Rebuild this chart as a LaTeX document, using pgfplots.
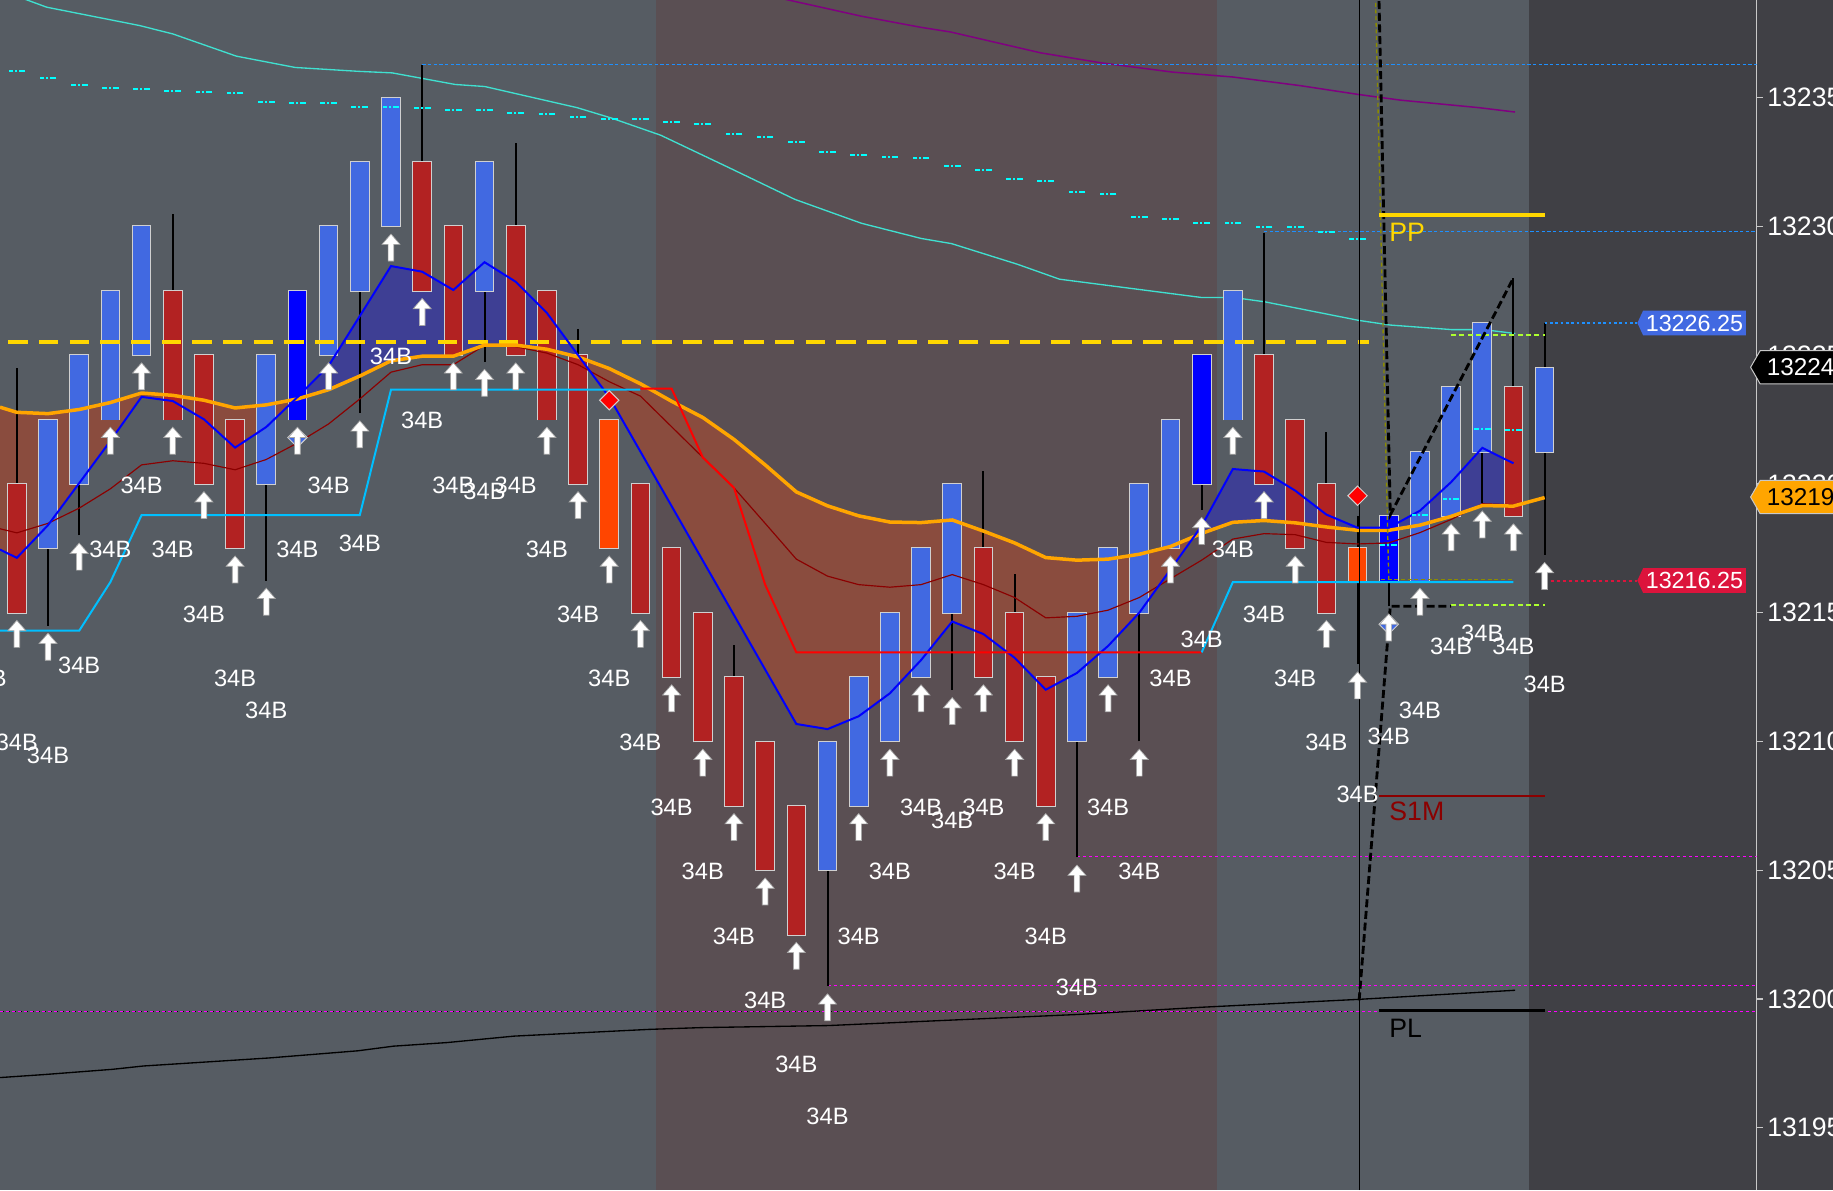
\documentclass[border=0pt]{standalone}
\usepackage{pgfplots}
\pgfplotsset{compat=1.18}
\usepackage{pgfplotstable}
\usepgfplotslibrary{fillbetween}
\usetikzlibrary{shapes.symbols}
\usepackage{fontspec}
\setmainfont{Liberation Sans}

\definecolor{bgleft}{HTML}{565C63}
\definecolor{bgmid}{HTML}{5A4F53}
\definecolor{bgdark}{HTML}{404045}
\definecolor{axisgray}{HTML}{C8C8C8}
\definecolor{royal}{HTML}{4169E1}
\definecolor{fire}{HTML}{B22222}
\definecolor{pureblue}{HTML}{0000FF}
\definecolor{orred}{HTML}{FF4500}
\definecolor{cborder}{HTML}{D0D0D0}
\definecolor{emaor}{HTML}{FFA500}
\definecolor{dkred}{HTML}{8B0000}
\definecolor{trailcyan}{HTML}{00BFFF}
\definecolor{turq}{HTML}{40E0D0}
\definecolor{purp}{HTML}{800080}
\definecolor{aqua}{HTML}{00FFFF}
\definecolor{gold}{HTML}{FFD700}
\definecolor{magen}{HTML}{FF00FF}
\definecolor{dodger}{HTML}{1E90FF}
\definecolor{brownfill}{HTML}{8A4C3E}
\definecolor{bluefill}{HTML}{3E3F94}
\definecolor{crimson}{HTML}{DC143C}
\definecolor{greenyel}{HTML}{ADFF2F}
\definecolor{olivec}{HTML}{8B8B00}
\pagecolor{bgdark}

\pgfdeclareplotmark{uarr}{%
  \pgfpathmoveto{\pgfqpoint{0pt}{-2.3pt}}%
  \pgfpathlineto{\pgfqpoint{2.7pt}{-5.4pt}}%
  \pgfpathlineto{\pgfqpoint{0.85pt}{-5.4pt}}%
  \pgfpathlineto{\pgfqpoint{0.85pt}{-10.4pt}}%
  \pgfpathlineto{\pgfqpoint{-0.85pt}{-10.4pt}}%
  \pgfpathlineto{\pgfqpoint{-0.85pt}{-5.4pt}}%
  \pgfpathlineto{\pgfqpoint{-2.7pt}{-5.4pt}}%
  \pgfpathclose
  \pgfusepathqfillstroke}
\pgfdeclareplotmark{dia}{%
  \pgfpathmoveto{\pgfqpoint{0pt}{2.9pt}}%
  \pgfpathlineto{\pgfqpoint{2.9pt}{0pt}}%
  \pgfpathlineto{\pgfqpoint{0pt}{-2.9pt}}%
  \pgfpathlineto{\pgfqpoint{-2.9pt}{0pt}}%
  \pgfpathclose
  \pgfusepathqfillstroke}

% candles of one colour: wick, border, body
\newcommand\candles[2]{%
\addplot[draw=none, mark=none, error bars/.cd, y dir=plus, y explicit, error mark=none,
  error bar style={draw=black, solid, line width=0.6pt}]
  table[x=i, y=low, y error plus expr=\thisrow{high}-\thisrow{low}] {#1};
\addplot[draw=none, mark=none, error bars/.cd, y dir=plus, y explicit, error mark=none,
  error bar style={draw=cborder, solid, line width=5.9pt}]
  table[x=i, y expr=\thisrow{bot}-0.035, y error plus expr=\thisrow{top}-\thisrow{bot}+0.07] {#1};
\addplot[draw=none, mark=none, error bars/.cd, y dir=plus, y explicit, error mark=none,
  error bar style={draw=#2, solid, line width=5.3pt}]
  table[x=i, y=bot, y error plus expr=\thisrow{top}-\thisrow{bot}] {#1};
}

\pgfplotstableread{
i low bot top high
1 13214.5 13217.5 13222.5 13222.5
2 13218 13220 13225 13225
3 13222.5 13222.5 13227.5 13227.5
4 13225 13225 13230 13230
8 13216.25 13220 13225 13225
10 13225 13225 13230 13230
11 13222.75 13227.5 13232.5 13232.5
12 13230 13230 13235 13235
15 13224.75 13227.5 13232.5 13232.5
26 13200.5 13205 13210 13210
27 13207.5 13207.5 13212.5 13212.5
28 13210 13210 13215 13215
29 13212.5 13212.5 13217.5 13217.5
30 13212 13215 13220 13220
34 13205.5 13210 13215 13215
35 13212.5 13212.5 13217.5 13217.5
36 13210 13215 13220 13220
37 13217.5 13217.5 13222.5 13222.5
39 13222.5 13222.5 13227.5 13227.5
45 13216.25 13216.25 13221.25 13221.25
46 13218.75 13218.75 13223.75 13223.75
47 13219.25 13221.25 13226.25 13226.25
49 13217.25 13221.25 13224.5 13226.25
}\tblue

\pgfplotstableread{
i low bot top high
0 13215 13215 13220 13224.5
5 13222.5 13222.5 13227.5 13230.5
6 13220 13220 13225 13225
7 13217.5 13217.5 13222.5 13222.5
13 13227.5 13227.5 13232.5 13236.25
14 13225 13225 13230 13230
16 13225 13225 13230 13233.25
17 13222.5 13222.5 13227.5 13227.5
18 13220 13220 13225 13226
20 13215 13215 13220 13220
21 13212.5 13212.5 13217.5 13217.5
22 13210 13210 13215 13215
23 13207.5 13207.5 13212.5 13213.75
24 13205 13205 13210 13210
25 13202.5 13202.5 13207.5 13207.5
31 13212.5 13212.5 13217.5 13220.5
32 13210 13210 13215 13216.5
33 13207.5 13207.5 13212.5 13212.5
40 13220 13220 13225 13229.75
41 13217.5 13217.5 13222.5 13222.5
42 13215 13215 13220 13222
48 13218.75 13218.75 13223.75 13228
}\tred

\pgfplotstableread{
i low bot top high
9 13222.5 13222.5 13227.5 13227.5
38 13219 13220 13225 13225
44 13215.25 13216.25 13218.75 13218.75
}\tpure

\pgfplotstableread{
i low bot top high
19 13217.5 13217.5 13222.5 13222.5
43 13213 13216.25 13217.5 13218.75
}\torange

\pgfplotstableread{
i low
0 13215
1 13214.5
2 13218
3 13222.5
4 13225
5 13222.5
6 13220
7 13217.5
8 13216.25
9 13222.5
10 13225
11 13222.75
12 13230
13 13227.5
14 13225
15 13224.75
16 13225
17 13222.5
18 13220
19 13217.5
20 13215
21 13212.5
22 13210
23 13207.5
24 13205
25 13202.5
26 13200.5
27 13207.5
28 13210
29 13212.5
30 13212
31 13212.5
32 13210
33 13207.5
34 13205.5
35 13212.5
36 13210
37 13217.5
38 13219
39 13222.5
40 13220
41 13217.5
42 13215
43 13213
44 13215.25
45 13216.25
46 13218.75
47 13219.25
48 13218.75
49 13217.25
}\lows

\pgfplotstableread{
i y
0 13236.03
1 13235.75
2 13235.49
3 13235.39
4 13235.35
5 13235.24
6 13235.20
7 13235.17
8 13234.82
9 13234.79
10 13234.79
11 13234.65
12 13234.65
13 13234.58
14 13234.53
15 13234.50
16 13234.41
17 13234.35
18 13234.24
19 13234.18
20 13234.17
21 13234.07
22 13233.96
23 13233.57
24 13233.47
25 13233.28
26 13232.87
27 13232.76
28 13232.68
29 13232.64
30 13232.34
31 13232.19
32 13231.83
33 13231.75
34 13231.34
35 13231.24
36 13230.35
37 13230.27
38 13230.12
39 13230.12
40 13229.97
41 13229.97
42 13229.77
43 13229.50
44 13217.63
45 13218.78
46 13219.41
47 13222.15
48 13222.08
}\vwap

\begin{document}
\begin{tikzpicture}
\begin{axis}[
  at={(0pt,0pt)}, anchor=south west,
  set layers,
  scale only axis, width=527pt, height=357pt,
  xmin=-0.54, xmax=55.80, ymin=13192.585, ymax=13238.79,
  axis background/.style={fill=bgleft},
  axis x line=none, axis y line*=right,
  y axis line style={draw=axisgray, line width=0.35pt},
  ytick={13195,13200,13205,13210,13215,13220,13225,13230,13235},
  scaled y ticks=false,
  tick align=outside, major tick length=1.8pt,
  tick style={draw=axisgray, line width=0.35pt},
  yticklabel style={font=\fontsize{8}{9}\selectfont, text=white, anchor=west, inner sep=0pt, xshift=1.2pt,
    /pgf/number format/fixed, /pgf/number format/precision=0},
  /pgf/number format/1000 sep={},
  /pgf/number format/assume math mode=true,
]
% session backgrounds
\addplot[on layer=axis background, draw=none, fill=bgmid] coordinates {(20.5,13192.585) (38.5,13192.585) (38.5,13238.79) (20.5,13238.79)};
\addplot[on layer=axis background, draw=none, fill=bgdark] coordinates {(48.5,13192.585) (55.80,13192.585) (55.80,13238.79) (48.5,13238.79)};

% upper turquoise line
\addplot[turq, line width=0.4pt] coordinates {(-0.54,13239.1) (0.285,13238.81) (0.96,13238.51) (3.93,13237.80) (5.01,13237.47) (7.04,13236.61) (8.93,13236.17) (10.96,13236.02) (12.04,13235.96) (14.06,13235.51) (15.01,13235.43) (17.97,13234.61) (19.06,13234.21) (20.65,13233.54) (22.84,13232.28) (24.95,13231.05) (27.09,13230.12) (29.01,13229.53) (29.98,13229.33) (32.09,13228.53) (33.44,13227.95) (37.99,13227.24) (39.02,13227.24) (40.03,13227.07) (43.04,13226.35) (44.04,13226.17) (46.04,13225.99) (47.05,13225.99) (48.06,13225.84)};
% purple line
\addplot[purp, line width=0.45pt] coordinates {(24,13239.1) (24.67,13238.81) (25.23,13238.66) (27.09,13238.16) (28.99,13237.73) (29.94,13237.55) (32.83,13236.74) (34.77,13236.35) (37.07,13235.99) (39.0,13235.80) (41.13,13235.47) (43.04,13235.12) (44.39,13234.90) (46.89,13234.61) (48.05,13234.44)};
% blue dotted levels
\addplot[dodger, line width=0.35pt, dash pattern=on 1pt off 0.7pt] coordinates {(13,13236.27) (55.8,13236.27)};
\addplot[dodger, line width=0.35pt, dash pattern=on 1pt off 0.7pt] coordinates {(40,13229.80) (55.8,13229.80)};
% magenta / black dashed low lines
\addplot[black, line width=0.5pt, dash pattern=on 1.2pt off 0.6pt] coordinates {(-0.54,13199.52) (43.05,13199.52)};
\addplot[magen, line width=0.35pt, dash pattern=on 1pt off 0.8pt] coordinates {(-0.54,13199.52) (55.8,13199.52)};
\addplot[magen, line width=0.35pt, dash pattern=on 1pt off 0.8pt] coordinates {(26,13200.54) (55.8,13200.54)};
\addplot[magen, line width=0.35pt, dash pattern=on 1pt off 0.8pt] coordinates {(34,13205.54) (55.8,13205.54)};
% slow black line
\addplot[black, line width=0.4pt] coordinates {(-0.54,13196.95) (0.91,13197.07) (3.06,13197.27) (4.06,13197.40) (8.07,13197.71) (10.94,13197.99) (12.08,13198.17) (13.80,13198.31) (15.95,13198.56) (18.1,13198.69) (20.25,13198.82) (21.94,13198.89) (26.03,13198.97) (34.02,13199.40) (37.99,13199.68) (43.08,13199.99) (48.05,13200.34)};
% dash-dot markers
\addplot[only marks, aqua, mark=-, mark size=2.5pt, mark options={line width=0.6pt, dash pattern=on 1.8pt off 0.6pt on 0.6pt off 0.6pt}] table[x=i, y=y] {\vwap};

% candles
\candles{\tblue}{royal}
\candles{\tred}{fire}
\candles{\tpure}{pureblue}
\candles{\torange}{orred}

% yellow dashed level
\addplot[gold, line width=1.2pt, dash pattern=on 5.8pt off 3.4pt] coordinates {(-0.27,13225.52) (43.38,13225.52)};

% moving averages
\addplot[dkred, line width=0.35pt] coordinates {(-0.54,13218.26) (0,13218.10) (1,13218.47) (2,13219.06) (3,13219.81) (4,13220.74) (5,13220.90) (6,13220.80) (7,13220.55) (8,13220.95) (9,13221.59) (10,13222.33) (11,13223.30) (12,13224.34) (13,13224.63) (14,13224.63) (15,13225.38) (16,13225.33) (17,13225.08) (18,13224.63) (19,13223.97) (20,13223.41) (21,13222.22) (22,13221.03) (23,13219.85) (24,13218.47) (25,13217.08) (26,13216.42) (27,13216.09) (28,13215.99) (29,13216.09) (30,13216.48) (31,13216.09) (32,13215.59) (33,13214.80) (34,13214.86) (35,13215.10) (36,13215.59) (37,13216.32) (38,13217.04) (39,13217.86) (40,13218.07) (41,13218.03) (42,13217.73) (43,13217.67) (44,13217.71) (45,13218.11) (46,13218.62) (47,13219.23) (48,13219.19)};
\addplot[emaor, line width=1.05pt, name path=ema] coordinates {(-0.54,13222.98) (0,13222.78) (1,13222.73) (2,13222.89) (3,13223.16) (4,13223.53) (5,13223.44) (6,13223.25) (7,13222.95) (8,13223.07) (9,13223.30) (10,13223.66) (11,13224.19) (12,13224.78) (13,13224.96) (14,13224.96) (15,13225.39) (16,13225.39) (17,13225.23) (18,13224.93) (19,13224.48) (20,13223.89) (21,13223.21) (22,13222.58) (23,13221.73) (24,13220.74) (25,13219.69) (26,13219.15) (27,13218.76) (28,13218.52) (29,13218.50) (30,13218.60) (31,13218.17) (32,13217.71) (33,13217.14) (34,13217.04) (35,13217.08) (36,13217.27) (37,13217.57) (38,13218.08) (39,13218.51) (40,13218.58) (41,13218.49) (42,13218.33) (43,13218.20) (44,13218.20) (45,13218.40) (46,13218.74) (47,13219.16) (48,13219.14) (49,13219.47)};
\addplot[pureblue, line width=0.6pt, name path=bl] coordinates {(-0.54,13217.45) (0,13217.13) (1,13218.40) (2,13220.03) (3,13221.67) (4,13223.38) (5,13223.22) (6,13222.51) (7,13221.41) (8,13222.21) (9,13223.37) (10,13224.59) (11,13226.52) (12,13228.46) (13,13228.24) (14,13227.53) (15,13228.61) (16,13227.85) (17,13226.64) (18,13225.00) (19,13223.37) (25,13210.68) (26,13210.48) (27,13210.98) (28,13211.87) (29,13213.16) (30,13214.66) (31,13214.17) (32,13213.25) (33,13212.01) (34,13212.66) (35,13213.71) (36,13215.00) (37,13216.68) (38,13218.37) (39,13220.58) (40,13220.48) (41,13219.74) (42,13218.81) (43,13218.30) (44,13218.30) (45,13218.96) (46,13220.07) (47,13221.40) (48,13220.80)};
\addplot[draw=none] fill between[of=bl and ema, split, soft clip={domain=-1:48},
  every segment no 0/.style={fill=brownfill},
  every segment no 1/.style={fill=bluefill},
  every segment no 2/.style={fill=brownfill},
  every segment no 3/.style={fill=bluefill}];

% trailing stop
\addplot[trailcyan, line width=0.6pt] coordinates {(-0.54,13214.30) (2,13214.30) (3,13216.19) (4,13218.79) (11,13218.79) (12,13223.66) (20,13223.66)};
\addplot[red, line width=0.6pt] coordinates {(20,13223.70) (21,13223.70) (22,13221.03) (23,13219.85) (24,13216.09) (25,13213.46) (38,13213.46)};
\addplot[trailcyan, line width=0.6pt] coordinates {(38,13213.46) (39,13216.19) (48,13216.19)};

% right side dashed levels
\addplot[greenyel, line width=0.5pt, dash pattern=on 1.5pt off 1pt] coordinates {(46,13225.79) (49,13225.79)};
\addplot[greenyel, line width=0.5pt, dash pattern=on 1.5pt off 1pt] coordinates {(46,13215.29) (49,13215.29)};
\addplot[olivec, line width=0.4pt, dash pattern=on 1.2pt off 0.8pt] coordinates {(43.75,13216.29) (48,13216.29)};
\addplot[olivec, line width=0.4pt, dash pattern=on 1.2pt off 0.8pt] coordinates {(43.57,13239.2) (44.0,13216.3)};

% zigzag
\addplot[black, line width=0.85pt, dash pattern=on 2.4pt off 1.1pt] coordinates {(43.68,13239.2) (44.05,13218.8) (48.0,13228.0)};
\addplot[black, line width=0.85pt, dash pattern=on 2.4pt off 1.1pt] coordinates {(43.05,13199.95) (44.05,13215.25) (46.0,13215.25)};

% pivots
\addplot[gold, line width=1.2pt] coordinates {(43.7,13230.43) (49.02,13230.43)};
\addplot[dkred, line width=0.6pt] coordinates {(43.7,13207.89) (49.02,13207.89)};
\addplot[black, line width=0.85pt] coordinates {(43.7,13199.54) (49.02,13199.54)};
\node[anchor=west, inner sep=0pt, text=gold, font=\fontsize{8}{9}\selectfont] at (axis cs:44.0,13229.75) {PP};
\node[anchor=west, inner sep=0pt, text=dkred, font=\fontsize{8}{9}\selectfont] at (axis cs:44.0,13207.27) {S1M};
\node[anchor=west, inner sep=0pt, text=black, font=\fontsize{8}{9}\selectfont] at (axis cs:44.0,13198.85) {PL};

% vertical line
\addplot[black, line width=0.35pt] coordinates {(43.05,13192.585) (43.05,13238.79)};

% signal markers
\addplot[only marks, mark=dia, mark options={fill=royal, draw=cborder, line width=0.3pt}] coordinates {(9,13221.80) (44,13214.55)};
\addplot[only marks, mark=dia, mark options={fill=red, draw=cborder, line width=0.3pt}] coordinates {(19,13223.25) (43,13219.54)};
\addplot[only marks, mark=uarr, mark options={fill=white, draw=gray!70, line width=0.2pt}] table[x=i, y=low] {\lows};
\addplot[draw=none, mark=none, nodes near coords={34B}, nodes near coords align={center},
  every node near coord/.style={anchor=center, inner sep=0pt, text=white, font=\fontsize{7.1}{8}\selectfont}]
  table[x=i, y expr=\thisrow{low}-5.05] {\lows};
% label of the bar just left of the view (low 13217.5)
\node[anchor=center, inner sep=0pt, text=white, font=\fontsize{7.1}{8}\selectfont] at (axis cs:-1,13212.45) {34B};

% dotted leaders to tags
\addplot[dodger, line width=0.4pt, dash pattern=on 0.8pt off 0.8pt] coordinates {(49,13226.25) (51.95,13226.25)};
\addplot[crimson, line width=0.6pt, dash pattern=on 0.9pt off 0.9pt] coordinates {(49,13216.25) (51.95,13216.25)};

\coordinate (tK) at (axis cs:55.80,13224.53);
\coordinate (tO) at (axis cs:55.80,13219.49);
\coordinate (tB) at (axis cs:51.95,13226.25);
\coordinate (tR) at (axis cs:51.95,13216.25);
\end{axis}
\node[signal, signal to=west, signal pointer angle=120, fill=black, draw=axisgray, line width=0.3pt, text=white, font=\fontsize{7.3}{8}\selectfont, inner xsep=2pt, inner ysep=0pt, minimum height=10pt, anchor=west, xshift=-2pt] at (tK) {13224.50};
\node[signal, signal to=west, signal pointer angle=120, fill=emaor, draw=axisgray, line width=0.3pt, text=black, font=\fontsize{7.3}{8}\selectfont, inner xsep=2pt, inner ysep=0pt, minimum height=10pt, anchor=west, xshift=-2pt] at (tO) {13219.47};
\node[signal, signal to=west, signal pointer angle=130, fill=royal, text=white, font=\fontsize{7}{8}\selectfont, inner xsep=0.8pt, inner ysep=0pt, minimum height=7.4pt, anchor=west] at (tB) {13226.25};
\node[signal, signal to=west, signal pointer angle=130, fill=crimson, text=white, font=\fontsize{7}{8}\selectfont, inner xsep=0.8pt, inner ysep=0pt, minimum height=7.4pt, anchor=west] at (tR) {13216.25};
\pgfresetboundingbox
\useasboundingbox (0,0) rectangle (549.9pt,357pt);
\end{tikzpicture}
\end{document}
